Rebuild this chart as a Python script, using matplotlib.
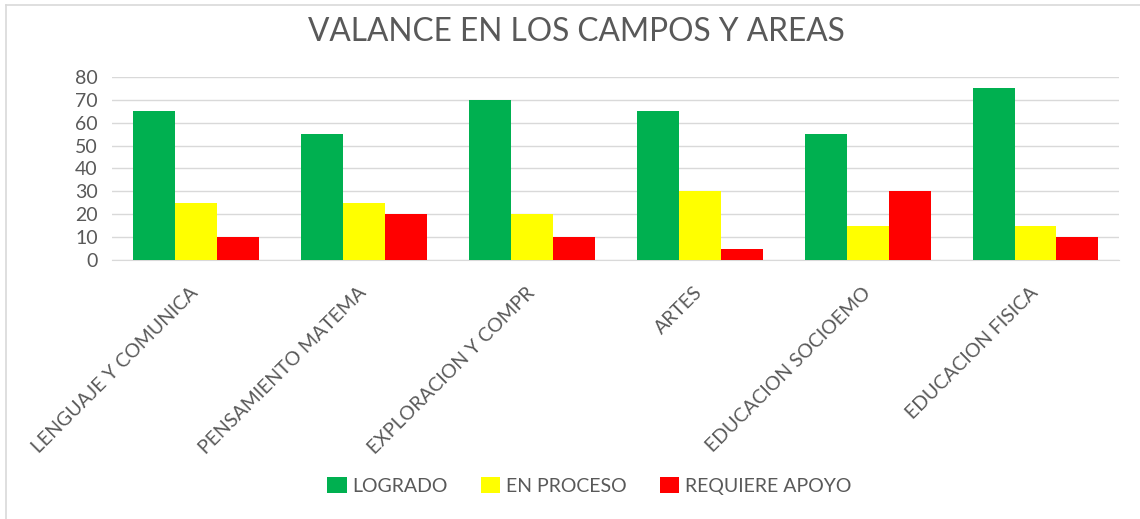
import matplotlib
matplotlib.use("Agg")
import matplotlib.pyplot as plt
import matplotlib.transforms as mtransforms
from matplotlib.lines import Line2D
import numpy as np

categories = ["LENGUAJE Y COMUNICA", "PENSAMIENTO MATEMA", "EXPLORACION Y COMPR",
              "ARTES", "EDUCACION SOCIOEMO", "EDUCACION FISICA"]
logrado = [65, 55, 70, 65, 55, 75]
en_proceso = [25, 25, 20, 30, 15, 15]
requiere_apoyo = [10, 20, 10, 5, 30, 10]
series_names = ["LOGRADO", "EN PROCESO", "REQUIERE APOYO"]
colors = ["#00B050", "#FFFF00", "#FF0000"]
yticks = [0, 10, 20, 30, 40, 50, 60, 70, 80]

plt.rcParams['font.family'] = ['Lato', 'DejaVu Sans']
grey = "#595959"

fig = plt.figure(figsize=(11.4, 5.19), dpi=100)
ax = fig.add_axes([0.098, 0.499, 0.884, 0.353])

# chart border (top and left visible)
fig.add_artist(Line2D([6 / 1140, 6 / 1140], [0, 1 - 5 / 519], transform=fig.transFigure,
                      color="#d9d9d9", linewidth=1.2))
fig.add_artist(Line2D([6 / 1140, 1], [1 - 5 / 519, 1 - 5 / 519], transform=fig.transFigure,
                      color="#d9d9d9", linewidth=1.2))

x = np.arange(len(categories))
w = 0.25
for i, (vals, name, c) in enumerate(zip([logrado, en_proceso, requiere_apoyo], series_names, colors)):
    ax.bar(x + (i - 1) * w, vals, width=w, color=c, label=name, zorder=3)

ax.set_xlim(-0.5, len(categories) - 0.5)
ax.set_ylim(0, 80)
ax.set_yticks(yticks)
ax.set_yticklabels([str(v) for v in yticks], fontsize=14, color=grey)
ax.grid(axis='y', color="#d9d9d9", linewidth=1, zorder=0)
for s in ["top", "right", "left"]:
    ax.spines[s].set_visible(False)
ax.spines["bottom"].set_color("#d9d9d9")
ax.tick_params(axis='y', length=0, pad=10)
ax.tick_params(axis='x', length=0, pad=0)
ax.set_xticks(x)
ax.set_xticklabels(categories, rotation=45, ha='right', va='top', rotation_mode='anchor',
                   fontsize=14, color=grey)
off = mtransforms.ScaledTranslation(-6 / 100, -24 / 100, fig.dpi_scale_trans)
for lbl in ax.get_xticklabels():
    lbl.set_transform(lbl.get_transform() + off)

fig.suptitle("VALANCE EN LOS CAMPOS Y AREAS", x=0.506, y=0.968, fontsize=22.8, color=grey)
fig.legend(loc='center', bbox_to_anchor=(0.517, 0.064), ncol=3, frameon=False,
           fontsize=14, handlelength=1.0, handleheight=0.9, handletextpad=0.3,
           columnspacing=1.7, labelcolor=grey)

fig.savefig("out.png", dpi=100)
